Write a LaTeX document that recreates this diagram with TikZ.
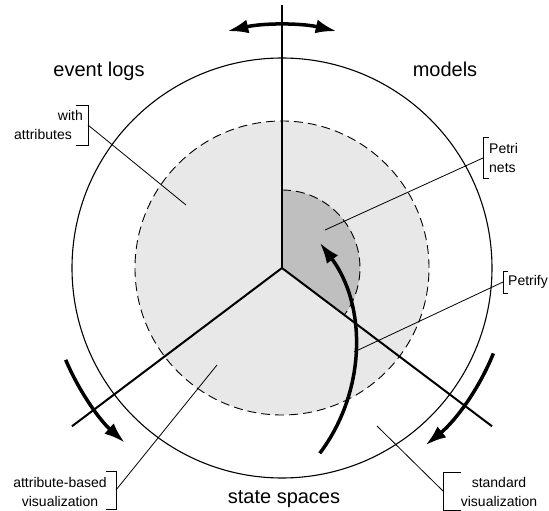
\documentclass[tikz,border=0pt]{standalone}
\usepackage{fontspec}
\setmainfont{Liberation Sans}
\usetikzlibrary{arrows.meta}
\definecolor{lightshade}{gray}{0.91}
\definecolor{darkshade}{gray}{0.75}
\tikzstyle{area}=[black,line width=1.1pt]
\tikzstyle{zone}=[black,line width=0.9pt,dash pattern=on 9pt off 5pt]
\tikzstyle{axis}=[black,line width=2pt]
\tikzstyle{turn}=[black,line width=3.5pt]
\tikzstyle{title}=[font=\fontsize{20}{24}\selectfont,anchor=base]
\tikzstyle{note}=[font=\fontsize{14}{19}\selectfont,align=center,inner sep=0pt]
\tikzstyle{pointer}=[black,line width=0.8pt]

\begin{document}
\begin{tikzpicture}[x=1pt,y=1pt,>={Latex[length=21pt,width=14pt]}]
  \useasboundingbox (-282,-243) rectangle (267,268);
  \coordinate (c) at (0,0);
  % shaded areas
  \fill [lightshade] (c) circle [radius=147pt];
  \fill [darkshade] (c) -- (90:78pt) arc [start angle=90,end angle=-37,radius=78pt] -- cycle;
  \draw [zone] (90:78pt) arc [start angle=90,end angle=-37,radius=78pt];
  \draw [zone] (c) circle [radius=147pt];
  \draw [area] (c) circle [radius=210pt];
  % the three parts
  \coordinate (top) at (90:263pt);
  \coordinate (left) at (217:263pt);
  \coordinate (right) at (-37:263pt);
  \draw [axis] (c) -- (top);
  \draw [axis] (c) -- (left);
  \draw [axis] (c) -- (right);
  % titles
  \node at (-183,191) [title] (logs) {event logs};
  \node at (163,191) [title] (models) {models};
  \node at (2,-235) [title] (spaces) {state spaces};
  % notes with brackets
  \node at (-199,143) [note,anchor=east,align=right] (attr) {with\\attributes\hspace*{11pt}};
  \coordinate (attrb) at (-194,143);
  \coordinate (attrp) at (-96,63);
  \draw [pointer] (attrb) ++(-12,20) -| ++(12,-40) -- ++(-12,0);
  \draw [pointer] (attrb) -- (attrp);
  \node at (207,110) [note,anchor=west,align=left] (petri) {Petri\\nets};
  \coordinate (petrib) at (201,110);
  \coordinate (petrip) at (43,38);
  \draw [pointer] (petrib) ++(6,20.5) -| ++(-6,-41) -- ++(6,0);
  \draw [pointer] (petrib) -- (petrip);
  \node at (226,-14) [note,anchor=west] (petrify) {Petrify};
  \coordinate (petrifyb) at (221,-14);
  \coordinate (petrifyp) at (72,-84);
  \draw [pointer] (petrifyb) ++(5,11) -| ++(-5,-22) -- ++(5,0);
  \draw [pointer] (petrifyb) -- (petrifyp);
  \node at (-222,-223.5) [note] (attrvis) {attribute-based\\visualization};
  \coordinate (attrvisb) at (-166,-222);
  \coordinate (attrvisp) at (-65,-97);
  \draw [pointer] (attrvisb) ++(-10,19) -| ++(10,-38) -- ++(-10,0);
  \draw [pointer] (attrvisb) -- (attrvisp);
  \node at (217,-224) [note] (stdvis) {standard\\visualization};
  \coordinate (stdvisb) at (161,-223);
  \coordinate (stdvisp) at (95,-158);
  \draw [pointer] (stdvisb) ++(18,19) -| ++(-18,-38) -- ++(18,0);
  \draw [pointer] (stdvisb) -- (stdvisp);
  % arrows
  \draw [turn,<->] (103:243pt) arc [start angle=103,end angle=77,radius=243pt];
  \draw [turn,->] (203:235pt) arc [start angle=203,end angle=228,radius=235pt];
  \draw [turn,->] (-22:228pt) arc [start angle=-22,end angle=-51,radius=228pt];
  \coordinate (pivot) at (-102,-80);
  \draw [turn,->] ([shift={(-37:175pt)}]pivot) arc [start angle=-37,end angle=37,radius=175pt];
\end{tikzpicture}
\end{document}
